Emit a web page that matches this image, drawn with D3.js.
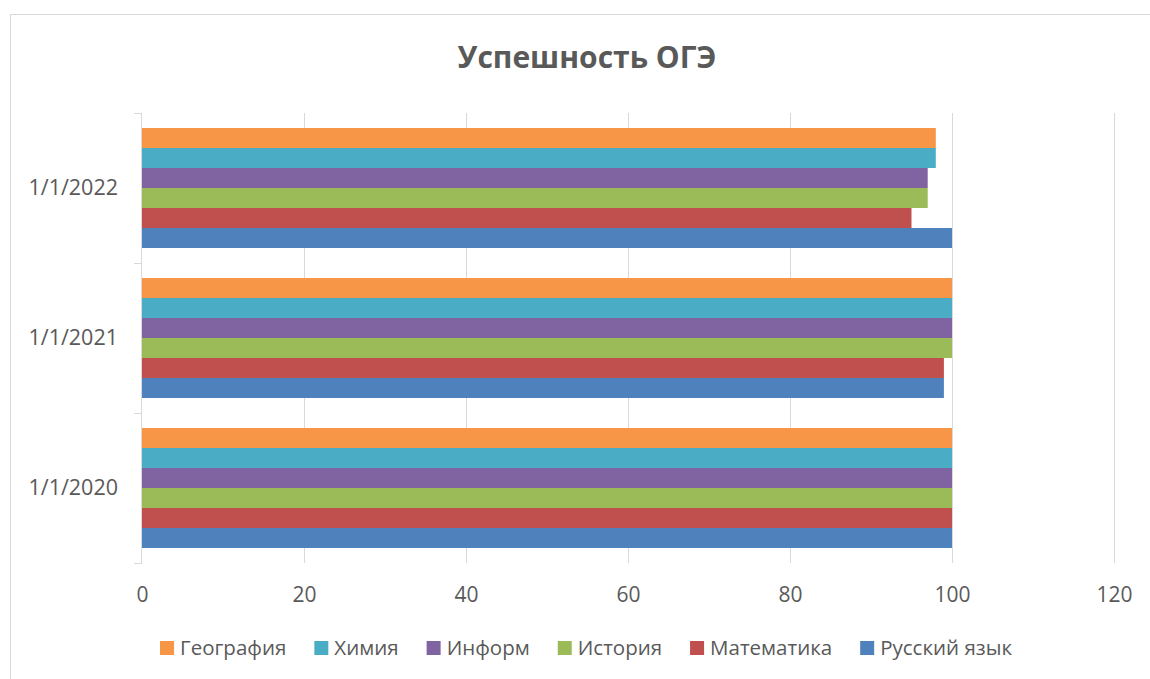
<!DOCTYPE html>
<html><head><meta charset="utf-8">
<script src="https://cdn.jsdelivr.net/npm/d3@7"></script>
<style>body{margin:0;background:#fff;} svg{display:block;}</style>
</head><body>
<svg id="chart" width="1150" height="679"></svg>
<script>
const categories = ["1/1/2020", "1/1/2021", "1/1/2022"];
const seriesNames = ["Русский язык", "Математика", "История", "Информ", "Химия", "География"];
const russian   = [100, 99, 100];
const math      = [100, 99, 95];
const history   = [100, 100, 97];
const inform    = [100, 100, 97];
const chemistry = [100, 100, 98];
const geography = [100, 100, 98];
const xTicks = [0, 20, 40, 60, 80, 100, 120];
const colors = ["#4f81bd", "#c0504d", "#9bbb59", "#8064a2", "#4bacc6", "#f79646"];
const seriesValues = [russian, math, history, inform, chemistry, geography];

const svg = d3.select("#chart");
const font = "'Open Sans', sans-serif";
const textColor = "#595959";

// frame
svg.append("rect").attr("x", 10.5).attr("y", 14.5).attr("width", 1200).attr("height", 700)
  .attr("fill", "#fff").attr("stroke", "#d9d9d9").attr("stroke-width", 1);

const plot = {left: 142, right: 1114, top: 113, bottom: 563};
const x = d3.scaleLinear().domain([0, 120]).range([plot.left, plot.right]);
const y = d3.scaleBand().domain(categories.slice().reverse()).range([plot.top, plot.bottom]).paddingInner(0).paddingOuter(0);
const inner = d3.scaleBand().domain(seriesNames.slice().reverse()).range([0, y.bandwidth()]).paddingOuter(0.75).paddingInner(0);

// gridlines
svg.append("g").selectAll("line").data(xTicks.filter(d => d > 0)).join("line")
  .attr("x1", d => x(d) + 0.5).attr("x2", d => x(d) + 0.5)
  .attr("y1", plot.top).attr("y2", plot.bottom)
  .attr("stroke", "#d9d9d9").attr("stroke-width", 1);

// bars
const groups = svg.append("g").selectAll("g").data(categories).join("g")
  .attr("transform", d => `translate(0,${y(d)})`);
groups.selectAll("rect").data((c, ci) => seriesNames.map((s, si) => ({s, v: seriesValues[si][ci], color: colors[si]})))
  .join("rect")
  .attr("x", x(0)).attr("y", d => inner(d.s))
  .attr("width", d => x(d.v) - x(0)).attr("height", inner.bandwidth())
  .attr("fill", d => d.color);

// y axis
const yAxis = d3.axisLeft(y).tickSize(0).tickPadding(24);
const yg = svg.append("g").attr("transform", `translate(${plot.left},0)`).call(yAxis);
yg.select(".domain").remove();
yg.selectAll("text").attr("font-family", font).attr("font-size", 21.5).attr("fill", textColor);
svg.append("line").attr("x1", plot.left - 0.5).attr("x2", plot.left - 0.5).attr("y1", plot.top).attr("y2", plot.bottom)
  .attr("stroke", "#d9d9d9");
svg.append("g").selectAll("line").data([plot.top, plot.top + y.bandwidth(), plot.top + 2 * y.bandwidth(), plot.bottom]).join("line")
  .attr("x1", plot.left - 8).attr("x2", plot.left).attr("y1", d => d + 0.5).attr("y2", d => d + 0.5)
  .attr("stroke", "#d9d9d9");

// x axis
const xAxis = d3.axisBottom(x).tickValues(xTicks).tickSize(0);
const xg = svg.append("g").attr("transform", `translate(0,${plot.bottom})`).call(xAxis);
xg.select(".domain").remove();
xg.selectAll("text").attr("font-family", font).attr("font-size", 21).attr("fill", textColor)
  .attr("y", 39).attr("dy", 0);

// title
svg.append("text").attr("x", 587).attr("y", 68).attr("text-anchor", "middle")
  .attr("font-family", font).attr("font-weight", "bold").attr("font-size", 30).attr("fill", textColor)
  .text("Успешность ОГЭ");

// legend
const legendOrder = seriesNames.map((s, i) => ({s, color: colors[i]})).reverse();
const lg = svg.append("g");
let lx = 160;
legendOrder.forEach(d => {
  const g = lg.append("g").attr("transform", `translate(${lx},0)`);
  g.append("rect").attr("x", 0).attr("y", 641).attr("width", 14).attr("height", 14).attr("fill", d.color);
  const t = g.append("text").attr("x", 20).attr("y", 655).attr("font-family", font).attr("font-size", 20.5)
    .attr("fill", textColor).text(d.s);
  lx += 20 + t.node().getComputedTextLength() + 28;
});
</script>
</body></html>
